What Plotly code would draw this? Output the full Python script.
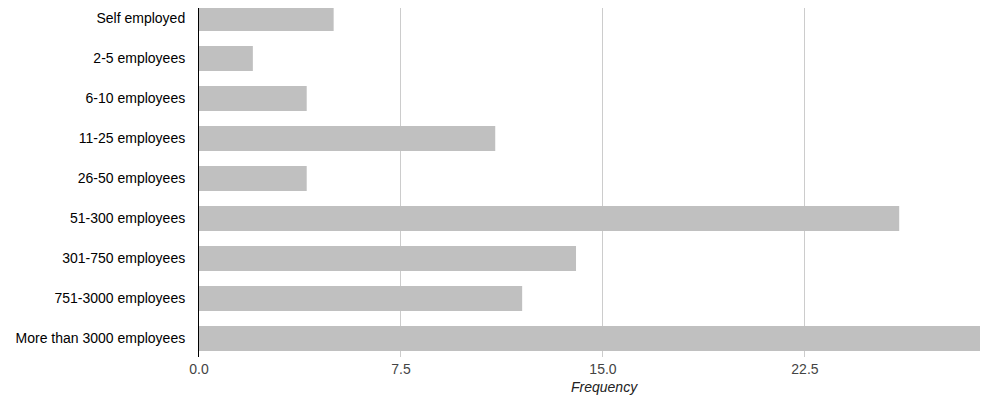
import plotly.graph_objects as go

categories = ["Self employed", "2-5 employees", "6-10 employees", "11-25 employees",
              "26-50 employees", "51-300 employees", "301-750 employees",
              "751-3000 employees", "More than 3000 employees"]
frequency = [5, 2, 4, 11, 4, 26, 14, 12, 29]
x_ticks = [0, 7.5, 15, 22.5]
x_tick_labels = ["0.0", "7.5", "15.0", "22.5"]
x_title = "Frequency"

fig = go.Figure(go.Bar(
    x=frequency, y=categories, orientation="h",
    marker=dict(color="#c0c0c0", line=dict(width=0)),
    hoverinfo="x+y",
))

fig.update_layout(
    width=997, height=389,
    margin=dict(l=191, r=25, t=0, b=40, pad=0),
    paper_bgcolor="white", plot_bgcolor="white",
    bargap=0.375,
    showlegend=False,
    font=dict(family="Liberation Sans, Arial, sans-serif", size=14, color="#222"),
    xaxis=dict(
        range=[0, 29], tickvals=x_ticks, ticktext=x_tick_labels,
        showgrid=True, gridcolor="#cccccc", gridwidth=1,
        zeroline=False, showline=False, ticks="",
        tickfont=dict(color="#444", size=14),
        ticklabelstandoff=2,
    ),
    yaxis=dict(
        range=[8.4625, -0.2625], type="category",
        showgrid=False, zeroline=False,
        showline=True, linecolor="#000", linewidth=1,
        ticks="", ticklabelstandoff=10,
        tickfont=dict(color="#000", size=14),
    ),
    annotations=[dict(
        text="<i>" + x_title + "</i>", xref="paper", yref="paper",
        x=0.5186, y=0, xanchor="center", yanchor="middle", yshift=-30,
        showarrow=False, font=dict(size=14, color="#222"),
    )],
)

fig.write_html("out.html")
